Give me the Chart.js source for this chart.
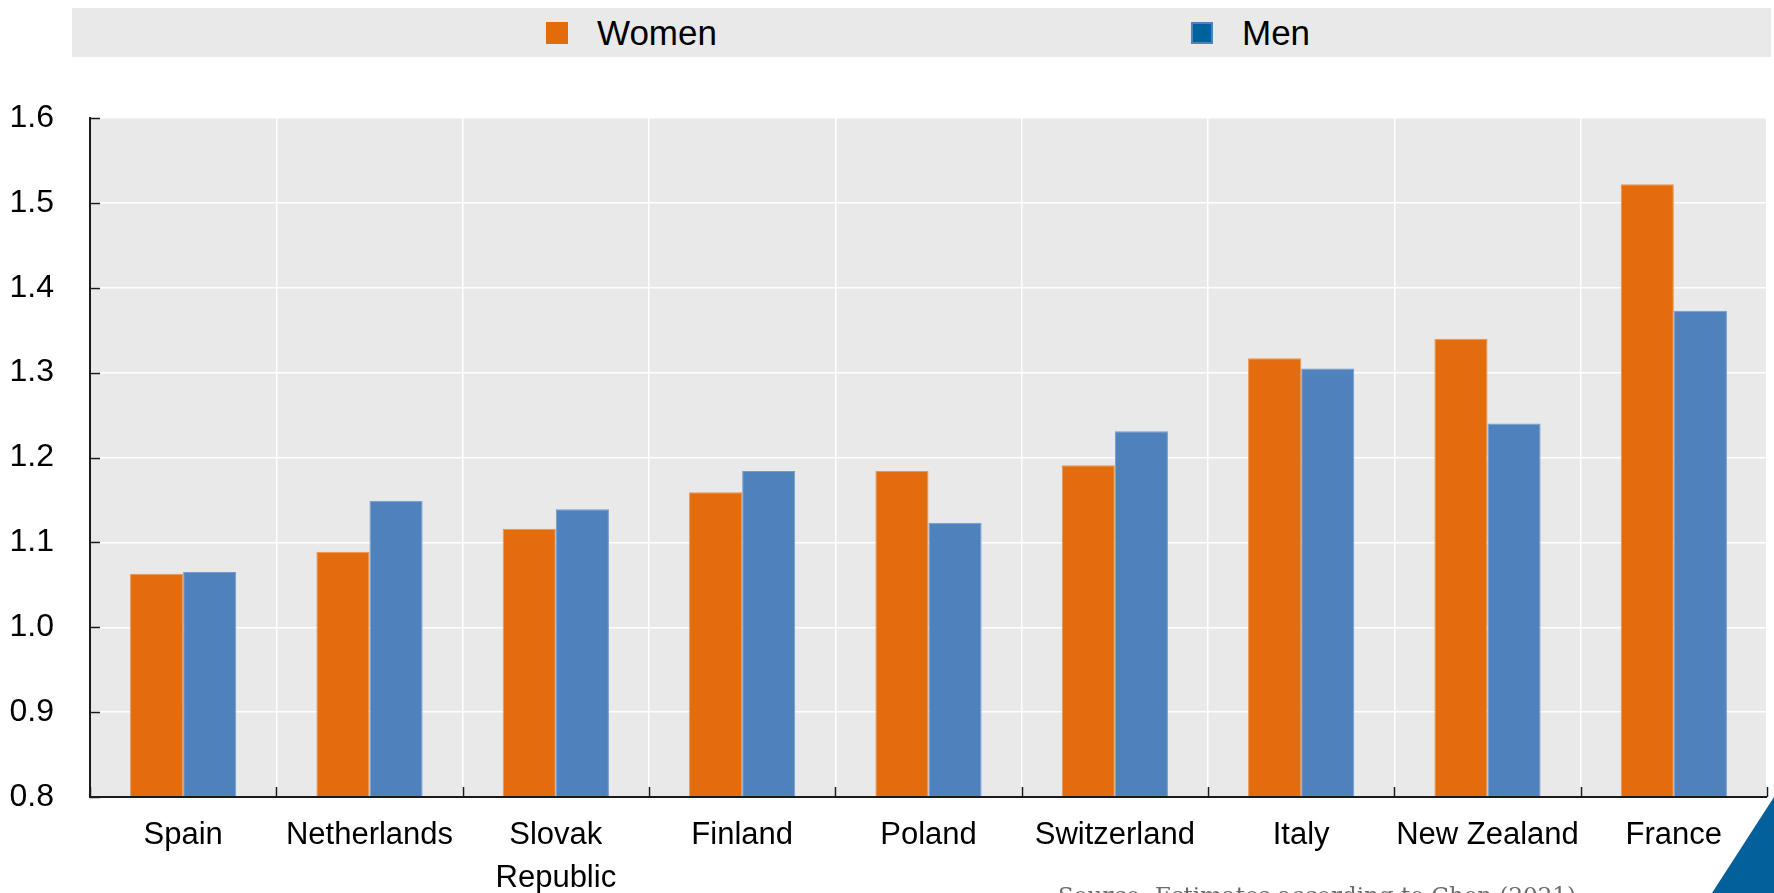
<!DOCTYPE html>
<html>
<head>
<meta charset="utf-8">
<script src="https://cdn.jsdelivr.net/npm/chart.js@4/dist/chart.umd.min.js"></script>
<style>
  html, body { margin: 0; padding: 0; background: #ffffff; }
  body { width: 1774px; height: 893px; position: relative; overflow: hidden; }
  #wrap { position: absolute; left: 0; top: 0; width: 1774px; height: 893px; }
  .legend-box { position: absolute; left: 72px; top: 8px; width: 1699px; height: 49px; background: #e9e9e9; }
  .legend-item { position: absolute; top: 0; height: 49px; display: flex; align-items: center;
    font-family: 'Liberation Sans', Arial, sans-serif; font-size: 35px; color: #000; }
  .swatch { width: 22px; height: 22px; margin-right: 29px; box-sizing: border-box; }
  .source { position: absolute; left: 1058px; top: 884px; font-family: 'DejaVu Serif', 'Liberation Serif', serif;
    font-size: 23px; line-height: 1; color: #6b6b6b; white-space: nowrap; }
  .corner { position: absolute; left: 0; top: 0; }
</style>
</head>
<body>
<div id="wrap"><canvas id="chart" width="1774" height="893"></canvas></div>
<div class="legend-box">
  <div class="legend-item" style="left:474px"><span class="swatch" style="background:#E36C0A"></span><span>Women</span></div>
  <div class="legend-item" style="left:1119px"><span class="swatch" style="background:#00629B;border:2px solid #4F81BD"></span><span>Men</span></div>
</div>
<div class="source">Source: Estimates according to Chen (2021)</div>
<svg class="corner" width="1774" height="893"><polygon points="1774,797 1712,893 1774,893" fill="#03609B"/></svg>
<script>
// Countries along the x axis
const countries = ['Spain', 'Netherlands', ['Slovak', 'Republic'], 'Finland', 'Poland', 'Switzerland', 'Italy', 'New Zealand', 'France'];
// Ratio values per country
const women = [1.063, 1.089, 1.116, 1.159, 1.184, 1.191, 1.317, 1.340, 1.522];
const men   = [1.065, 1.149, 1.139, 1.184, 1.123, 1.231, 1.305, 1.240, 1.373];
// Value axis range and ticks
const yMin = 0.8, yMax = 1.6, yStep = 0.1;

const sans = "'Liberation Sans', Arial, sans-serif";

// Grey plot background behind the grid
const plotBackground = {
  id: 'plotBackground',
  beforeDraw(chart) {
    const { ctx, chartArea: a } = chart;
    ctx.save();
    ctx.fillStyle = '#e9e9e9';
    ctx.fillRect(a.left, a.top, a.right - a.left, a.bottom - a.top);
    ctx.restore();
  }
};

// Black axis lines with tick marks pointing into the plot
const innerTicks = {
  id: 'innerTicks',
  afterDraw(chart) {
    const { ctx, chartArea: a, scales } = chart;
    const len = 10;
    ctx.save();
    ctx.strokeStyle = '#1a1a1a';
    ctx.lineWidth = 2;
    ctx.beginPath();
    ctx.moveTo(a.left, a.top - 1);
    ctx.lineTo(a.left, a.bottom);
    ctx.lineTo(a.right, a.bottom);
    ctx.stroke();
    ctx.lineWidth = 1.5;
    ctx.beginPath();
    scales.y.ticks.forEach((t, i) => {
      const y = Math.round(scales.y.getPixelForTick(i)) + 0.5;
      ctx.moveTo(a.left, y);
      ctx.lineTo(a.left + len, y);
    });
    const n = countries.length;
    for (let i = 0; i <= n; i++) {
      const x = Math.round(scales.x.getPixelForValue(i - 0.5)) + 0.5;
      ctx.moveTo(x, a.bottom);
      ctx.lineTo(x, a.bottom - len);
    }
    ctx.stroke();
    ctx.restore();
  }
};

new Chart(document.getElementById('chart'), {
  type: 'bar',
  data: {
    labels: countries,
    datasets: [
      { label: 'Women', data: women, backgroundColor: '#E36C0C', borderColor: '#EC9252', borderWidth: 1,
        barPercentage: 1.0, categoryPercentage: 0.57 },
      { label: 'Men', data: men, backgroundColor: '#4F81BD', borderColor: '#6F9AD0', borderWidth: 1,
        barPercentage: 1.0, categoryPercentage: 0.57 }
    ]
  },
  options: {
    responsive: false,
    animation: false,
    devicePixelRatio: 1,
    layout: { padding: { top: 118, right: 7, left: 0, bottom: 0 } },
    plugins: { legend: { display: false }, tooltip: { enabled: false } },
    scales: {
      x: {
        grid: { display: true, offset: true, color: '#ffffff', lineWidth: 1.5, drawTicks: false },
        border: { display: false },
        ticks: { color: '#000', padding: 17, font: { family: sans, size: 31, lineHeight: 1.38 }, maxRotation: 0, autoSkip: false },
        afterFit(scale) { scale.height = 96; }
      },
      y: {
        min: yMin, max: yMax,
        grid: { color: '#ffffff', lineWidth: 1.5, drawTicks: false },
        border: { display: false },
        ticks: { stepSize: yStep, color: '#000', padding: 36, font: { family: sans, size: 32 },
          callback: v => Number(v).toFixed(1) },
        afterFit(scale) { scale.width = 90; }
      }
    }
  },
  plugins: [plotBackground, innerTicks]
});
</script>
</body>
</html>
